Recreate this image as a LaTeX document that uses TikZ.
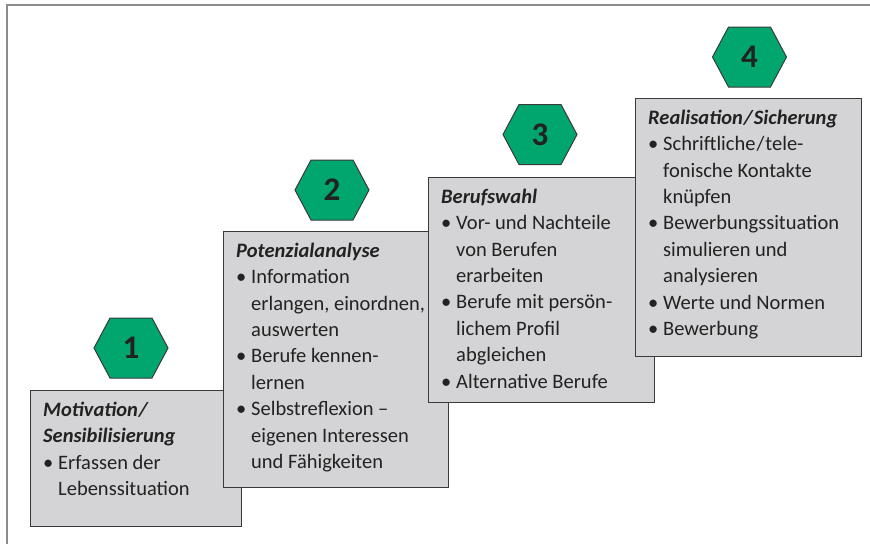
\documentclass[tikz,border=0pt]{standalone}
\usepackage{fontspec}
\setmainfont{Carlito}
\definecolor{hexgreen}{HTML}{00A66E}
\definecolor{boxgray}{HTML}{D4D4D6}
\definecolor{edgegray}{HTML}{3A3A3A}
\definecolor{framegray}{HTML}{8C8C8C}
\definecolor{inkdark}{HTML}{222222}
\newcommand{\bl}{\makebox[15pt][l]{•}}
\newcommand{\ind}{\hspace*{15pt}}
\newcommand{\hd}[1]{\textbf{\textit{#1}}}
\newcommand{\fst}{\rule{0pt}{20pt}}
\tikzset{
  framebox/.style={draw=framegray, line width=2pt},
  stepbox/.style={draw=edgegray, fill=boxgray, line width=1.3pt, anchor=north west, inner sep=0pt},
  txt/.style={anchor=north west, inner sep=0pt, align=left, text=inkdark,
    font=\fontsize{20.5}{26.4}\selectfont},
  hexline/.style={draw=edgegray, fill=hexgreen, line width=1pt, line join=miter},
  numfont/.style={font=\fontsize{33}{33}\selectfont\bfseries, text=inkdark, inner sep=0pt},
  hexa/.pic={
    \draw[hexline] (-37,0) -- (-21,-30) -- (21,-30) -- (37,0) -- (21,30) -- (-21,30) -- cycle;
    \node[numfont] (-n) at (0,0) {#1};
  }
}
\begin{document}
\begin{tikzpicture}[x=1pt,y=-1pt]
\useasboundingbox (0,0) rectangle (870,544);
\draw[framebox] (7,544) -- (7,4.5) -- (870,4.5);

% step 1
\node[stepbox, minimum width=211pt, minimum height=136pt] (b1) at (30,390) {};
\node[txt] (t1) at ([xshift=13pt,yshift=-6pt]b1.north west) {\fst\hd{Motivation\kern1pt/}\\
\hd{Sensibilisierung}\\
\bl Erfassen der\\
\ind Lebenssituation};
\pic (h1) at (131,348) {hexa=1};

% step 2
\node[stepbox, minimum width=225pt, minimum height=256pt] (b2) at (223,231) {};
\node[txt] (t2) at ([xshift=13pt,yshift=-6pt]b2.north west) {\fst\hd{Potenzialanalyse}\\
\bl Information\\
\ind erlangen, einordnen,\\
\ind auswerten\\
\bl Berufe kennen-\\
\ind lernen\\
\bl Selbstreflexion –\\
\ind eigenen Interessen\\
\ind und Fähigkeiten};
\pic (h2) at (332,190) {hexa=2};

% step 3
\node[stepbox, minimum width=226pt, minimum height=225pt] (b3) at (428,177) {};
\node[txt] (t3) at ([xshift=13pt,yshift=-6pt]b3.north west) {\fst\hd{Berufswahl}\\
\bl Vor- und Nachteile\\
\ind von Berufen\\
\ind erarbeiten\\
\bl Berufe mit persön-\\
\ind lichem Profil\\
\ind abgleichen\\
\bl Alternative Berufe};
\pic (h3) at (540,134.5) {hexa=3};

% step 4
\node[stepbox, minimum width=226pt, minimum height=258pt] (b4) at (635,98) {};
\node[txt] (t4) at ([xshift=13pt,yshift=-6pt]b4.north west) {\fst\hd{Realisation\kern1pt/\kern1ptSicherung}\\
\bl Schriftliche\kern1pt/\kern1pt tele-\\
\ind fonische Kontakte\\
\ind knüpfen\\
\bl Bewerbungssituation\\
\ind simulieren und\\
\ind analysieren\\
\bl Werte und Normen\\
\bl Bewerbung};
\pic (h4) at (749.5,57) {hexa=4};
\end{tikzpicture}
\end{document}
